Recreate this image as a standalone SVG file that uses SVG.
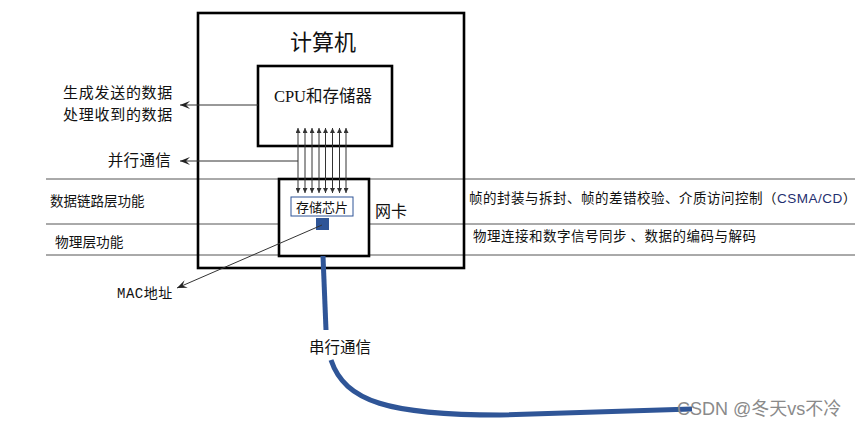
<svg xmlns="http://www.w3.org/2000/svg" width="863" height="428" viewBox="0 0 863 428">
<style>
.cjk{font-family:"Noto Sans CJK SC","Liberation Sans",sans-serif;fill:#111}
.box{fill:#fff;stroke:#000;stroke-width:2.6}
.thin{stroke:#555;stroke-width:1;fill:none}
.arr{stroke:#333;stroke-width:1;fill:none}
</style>
<defs>
<marker id="ah" viewBox="0 0 10 8" refX="10" refY="4" markerWidth="10" markerHeight="8" markerUnits="userSpaceOnUse" orient="auto-start-reverse">
<path d="M0,0 L10,4 L0,8 L4,4 z" fill="#222"/>
</marker>
<marker id="sh" viewBox="0 0 6 6" refX="6" refY="3" markerWidth="5" markerHeight="5" markerUnits="userSpaceOnUse" orient="auto-start-reverse">
<path d="M0,0 L6,3 L0,6 z" fill="#333"/>
</marker>
</defs>
<rect width="863" height="428" fill="#fff"/>
<g id="layer-lines">
<line class="thin" x1="46" y1="179" x2="855" y2="179"/>
<line class="thin" x1="46" y1="224" x2="855" y2="224"/>
<line class="thin" x1="46" y1="255" x2="855" y2="255"/>
</g>
<g id="computer">
<rect x="198" y="13" width="266" height="255" fill="none" stroke="#000" stroke-width="2.6"/>
<text class="cjk" x="323" y="50" font-size="22" text-anchor="middle">计算机</text>
</g>
<g id="cpu">
<rect class="box" x="258" y="66" width="134" height="80" stroke-width="3"/>
<text x="323" y="102" font-size="16.5" text-anchor="middle"><tspan font-family="'Liberation Serif',serif" fill="#111">CPU</tspan><tspan class="cjk">和存储器</tspan></text>
</g>
<g id="nic">
<rect class="box" x="279" y="179" width="90" height="77"/>
<text class="cjk" x="375" y="217" font-size="16">网卡</text>
</g>
<g id="chip">
<rect x="291" y="197" width="62" height="19" fill="#fff" stroke="#2f5597" stroke-width="1"/>
<text class="cjk" x="322" y="211.5" font-size="13" text-anchor="middle">存储芯片</text>
</g>
<g id="mac-port">
<rect x="316" y="218" width="13" height="12" fill="#2f5597"/>
</g>
<g id="connectors">
<line class="arr" x1="258" y1="105" x2="180" y2="105" marker-end="url(#ah)"/>
<line class="arr" x1="298" y1="161" x2="180" y2="161" marker-end="url(#ah)"/>
<g class="arr">
<line x1="298" y1="128" x2="298" y2="193" marker-start="url(#sh)" marker-end="url(#sh)"/>
<line x1="305" y1="128" x2="305" y2="193" marker-start="url(#sh)" marker-end="url(#sh)"/>
<line x1="312" y1="128" x2="312" y2="193" marker-start="url(#sh)" marker-end="url(#sh)"/>
<line x1="319" y1="128" x2="319" y2="193" marker-start="url(#sh)" marker-end="url(#sh)"/>
<line x1="325.5" y1="128" x2="325.5" y2="193" marker-start="url(#sh)" marker-end="url(#sh)"/>
<line x1="332.5" y1="128" x2="332.5" y2="193" marker-start="url(#sh)" marker-end="url(#sh)"/>
<line x1="339.5" y1="128" x2="339.5" y2="193" marker-start="url(#sh)" marker-end="url(#sh)"/>
<line x1="346" y1="128" x2="346" y2="193" marker-start="url(#sh)" marker-end="url(#sh)"/>
</g>
<line class="arr" x1="322" y1="225" x2="177" y2="288" marker-end="url(#ah)"/>
<path d="M323,256 L326,330" fill="none" stroke="#2f5597" stroke-width="5"/>
<path d="M331,360 C345,402 390,415 500,415 L692,409" fill="none" stroke="#2f5597" stroke-width="5"/>
</g>
<g id="labels">
<text class="cjk" x="173" y="98" font-size="15" letter-spacing="0.7" text-anchor="end">生成发送的数据</text>
<text class="cjk" x="173" y="120" font-size="15" letter-spacing="0.7" text-anchor="end">处理收到的数据</text>
<text class="cjk" x="171" y="166" font-size="15.5" letter-spacing="0.3" text-anchor="end">并行通信</text>
<text class="cjk" x="50" y="206" font-size="13.5">数据链路层功能</text>
<text class="cjk" x="55" y="247" font-size="13.7">物理层功能</text>
<text class="cjk" x="469" y="203" font-size="13.5" letter-spacing="0.5">帧的封装与拆封、帧的差错校验、介质访问控制（<tspan font-family="'Liberation Sans',sans-serif" fill="#1f2f6f">CSMA/CD</tspan>）</text>
<text class="cjk" x="473" y="241" font-size="13.5" letter-spacing="0.5">物理连接和数字信号同步 、数据的编码与解码</text>
<text x="117" y="298" font-size="14" letter-spacing="0.5" fill="#111"><tspan font-family="'Liberation Mono',monospace">MAC</tspan><tspan class="cjk">地址</tspan></text>
<text class="cjk" x="340" y="353" font-size="15.5" text-anchor="middle">串行通信</text>
<text x="677" y="415" font-size="18" fill="#8a8a8a" font-family="'Liberation Sans','Noto Sans CJK SC',sans-serif">CSDN @冬天vs不冷</text>
</g>
</svg>
